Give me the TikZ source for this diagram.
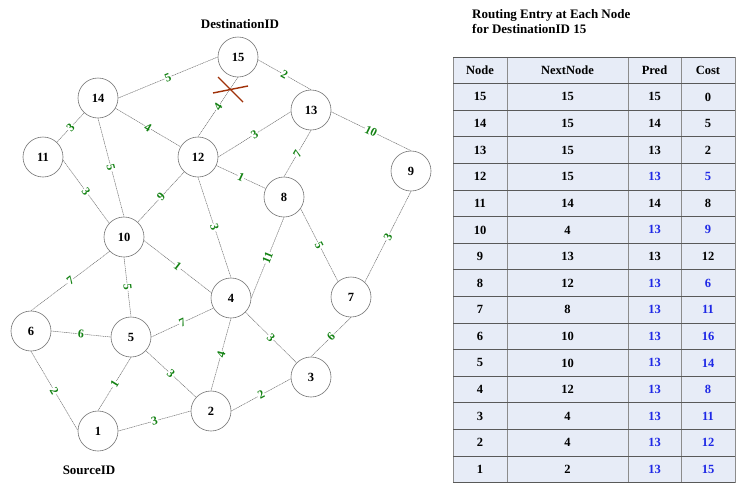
\documentclass[tikz,border=0pt]{standalone}
\usepackage{fontspec}
\setmainfont{Liberation Serif}
\definecolor{wgreen}{RGB}{20,130,20}
\definecolor{tblue}{RGB}{30,40,230}
\definecolor{xred}{RGB}{160,50,10}
\definecolor{tabfill}{RGB}{231,236,247}
\tikzset{
  vtx/.style={circle,draw=black!55,line width=0.6pt,minimum size=40pt,inner sep=0pt,
    font=\fontsize{12.5}{14}\selectfont\bfseries},
  link/.style={draw=black!55,line width=0.5pt,dash pattern=on 1.2pt off 0.6pt},
  wt/.style={midway,sloped,text=wgreen,fill=white,inner sep=0.6pt,
    font=\fontsize{12}{14}\selectfont\bfseries},
  lbl/.style={font=\fontsize{13}{15}\selectfont\bfseries,inner sep=0pt},
  cell/.style={font=\fontsize{12.5}{14}\selectfont\bfseries,inner sep=0pt},
  hline/.style={draw=black!65,line width=0.8pt},
  vline/.style={draw=black!45,line width=0.8pt},
}
\begin{document}
\begin{tikzpicture}[x=1pt,y=-1pt]
  \useasboundingbox (0,0) rectangle (742,491);
  %% nodes of the graph
  \node[vtx] (n15) at (238,57) {15};
  \node[vtx] (n14) at (98,98) {14};
  \node[vtx] (n13) at (311,110) {13};
  \node[vtx] (n11) at (43,157) {11};
  \node[vtx] (n12) at (198,157) {12};
  \node[vtx] (n9) at (411,171) {9};
  \node[vtx] (n8) at (284,197) {8};
  \node[vtx] (n10) at (124,237) {10};
  \node[vtx] (n4) at (231,298) {4};
  \node[vtx] (n7) at (351,297) {7};
  \node[vtx] (n6) at (31,331) {6};
  \node[vtx] (n5) at (131,337) {5};
  \node[vtx] (n3) at (311,377) {3};
  \node[vtx] (n2) at (211,411) {2};
  \node[vtx] (n1) at (98,431) {1};
  \node[lbl,anchor=base] (dst) at (240,28) {DestinationID};
  \node[lbl,anchor=base] (src) at (89,474) {SourceID};
  %% weighted links
  \foreach \a/\b/\w in {15.west/14.east/5, 15.-8/13.north/2, 15.south/12.north/4,
      14/11/3, 14/12/4, 14.south/10.north/5, 11.-9/10.137/3, 12.east/13.185/3,
      12/8/1, 12/10/9, 12.south/4.north/3, 13.south/8.north/7, 13.-5/9.north/10,
      9.south/7.47/3, 8.-35/7.130/5, 8.south/4.east/11, 10.-10/4.165/1,
      10.south/5.north/5, 10.225/6.north/7, 6.east/5.west/6, 6.south/1.178/2,
      5.east/4.210/7, 5.south/1.north/1, 5/2/3, 4.south/2.north/4, 4/3/3,
      7.south/3.north/6, 2.west/1.east/3, 2.east/3.185/2}
    \draw[link] (n\a) -- node[wt] {\w} (n\b);
  %% broken link
  \draw[xred,line width=1.4pt] (213,93) -- (248,86);
  \draw[xred,line width=1.4pt] (218,77) -- (243,102);
  %% routing table
  \node[lbl,anchor=base west] (ttl1) at (472,18.5) {Routing Entry at Each Node};
  \node[lbl,anchor=base west] (ttl2) at (472,33.5) {for DestinationID 15};
  \fill[tabfill] (453,57) rectangle (735,482.6);
  \foreach \x in {453,507,628,681,735}
    \draw[vline] (\x,57) -- (\x,482.6);
  \foreach \i in {0,...,16}
    \draw[hline] (453,{57+26.6*\i}) -- (735,{57+26.6*\i});
  \node[cell] (hnd) at (480,70.3) {Node};
  \node[cell] (hnx) at (567.5,70.3) {NextNode};
  \node[cell] (hpr) at (654.5,70.3) {Pred};
  \node[cell] (hco) at (708,70.3) {Cost};
  \foreach \n/\nx/\p/\c/\col [count=\i] in {15/15/15/0/black, 14/15/14/5/black,
      13/15/13/2/black, 12/15/13/5/tblue, 11/14/14/8/black, 10/4/13/9/tblue,
      9/13/13/12/black, 8/12/13/6/tblue, 7/8/13/11/tblue, 6/10/13/16/tblue,
      5/10/13/14/tblue, 4/12/13/8/tblue, 3/4/13/11/tblue, 2/4/13/12/tblue,
      1/2/13/15/tblue}
  {
    \pgfmathsetmacro\yy{70.3+26.6*\i}
    \node[cell] (nd\i) at (480,\yy) {\n};
    \node[cell] (nx\i) at (567.5,\yy) {\nx};
    \node[cell,text=\col] (pr\i) at (654.5,\yy) {\p};
    \node[cell,text=\col] (co\i) at (708,\yy) {\c};
  }
\end{tikzpicture}
\end{document}
